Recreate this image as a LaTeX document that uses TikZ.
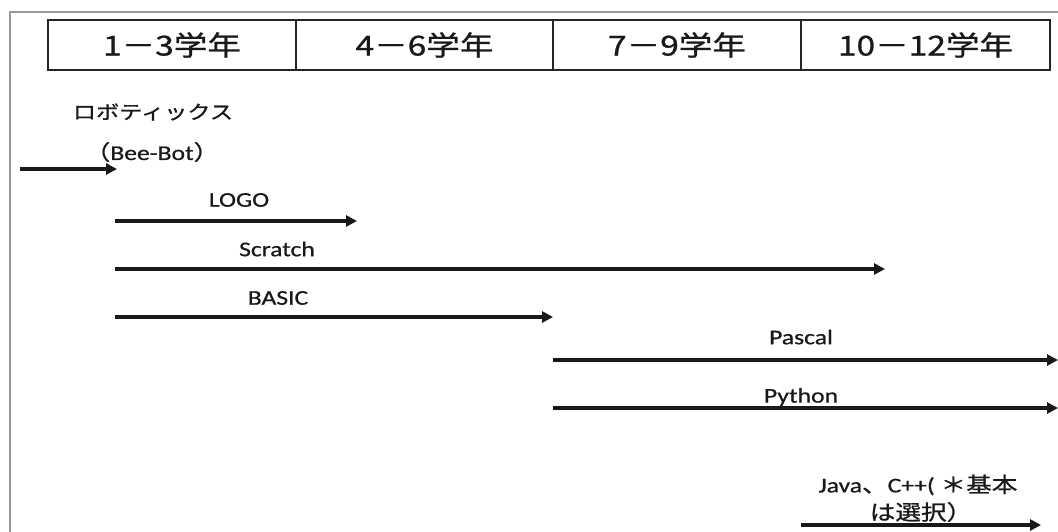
\documentclass[tikz,border=0pt]{standalone}
\usepackage{fontspec}
\setmainfont[FakeBold=0.6]{Carlito}
\newfontfamily\cjk[FakeBold=0.8]{Noto Sans CJK JP}
\newfontfamily\cjkhead[FakeBold=0.8]{Noto Sans CJK JP}
\usetikzlibrary{arrows.meta}
\newcommand{\hs}[1]{\scalebox{1.22}[1]{#1}}
\begin{document}
\begin{tikzpicture}[x=1pt,y=-1pt,
  cell/.style={draw=black!85, line width=2pt, minimum height=50pt, inner sep=0pt,
    font=\cjkhead\fontsize{27.5}{30}\selectfont, text=black!90},
  bar/.style={line width=4pt, draw=black!90, -{Triangle[length=11pt,width=11pt]}},
  lbl/.style={inner sep=0pt, font=\fontsize{21}{24}\selectfont, text=black!90},
  jlbl/.style={inner sep=0pt, font=\cjk\fontsize{19}{22}\selectfont, text=black!90}]
\useasboundingbox (0,0) rectangle (1058,531);
\fill[white] (0,0) rectangle (1058,531);
% outer frame
\draw[black!40, line width=1.5pt] (10,540) -- (10,12) -- (1070,12);
% header table
\node[cell, minimum width=248pt] (g1) at (172,45) {\hs{1－3学年}};
\node[cell, minimum width=257pt] (g2) at (424.5,45) {\hs{4－6学年}};
\node[cell, minimum width=248pt] (g3) at (677,45) {\hs{7－9学年}};
\node[cell, minimum width=249pt] (g4) at (925.5,45) {\hs{10－12学年}};
% labels
\node[jlbl] (robo) at (153,112) {\hs{ロボティックス}};
\node[lbl] (bee) at (152,152) {\hs{{\cjk （}Bee-Bot{\cjk ）}}};
\node[lbl] (logo) at (239,200) {\hs{LOGO}};
\node[lbl] (scratch) at (277,249) {\hs{Scratch}};
\node[lbl] (basic) at (278,298) {\hs{BASIC}};
\node[lbl] (pascal) at (801,337) {\hs{Pascal}};
\node[lbl] (python) at (801,397) {\hs{Python}};
\node[lbl] (java1) at (918,485) {\hs{Java{\cjk 、}C++( {\cjk ＊基本}}};
\node[lbl] (java2) at (921,512) {\hs{\cjk は選択）}};
% arrow end points
\coordinate (r0) at (20,169);   \coordinate (r1) at (117,169);
\coordinate (l0) at (115,221);  \coordinate (l1) at (357,221);
\coordinate (s0) at (115,269);  \coordinate (s1) at (885,269);
\coordinate (b0) at (115,317);  \coordinate (b1) at (553,317);
\coordinate (p0) at (553,360);  \coordinate (p1) at (1058,360);
\coordinate (y0) at (553,408);  \coordinate (y1) at (1058,408);
\coordinate (j0) at (801,525);  \coordinate (j1) at (1041,525);
\draw[bar] (r0) -- (r1);
\draw[bar] (l0) -- (l1);
\draw[bar] (s0) -- (s1);
\draw[bar] (b0) -- (b1);
\draw[bar] (p0) -- (p1);
\draw[bar] (y0) -- (y1);
\draw[bar] (j0) -- (j1);
\end{tikzpicture}
\end{document}
